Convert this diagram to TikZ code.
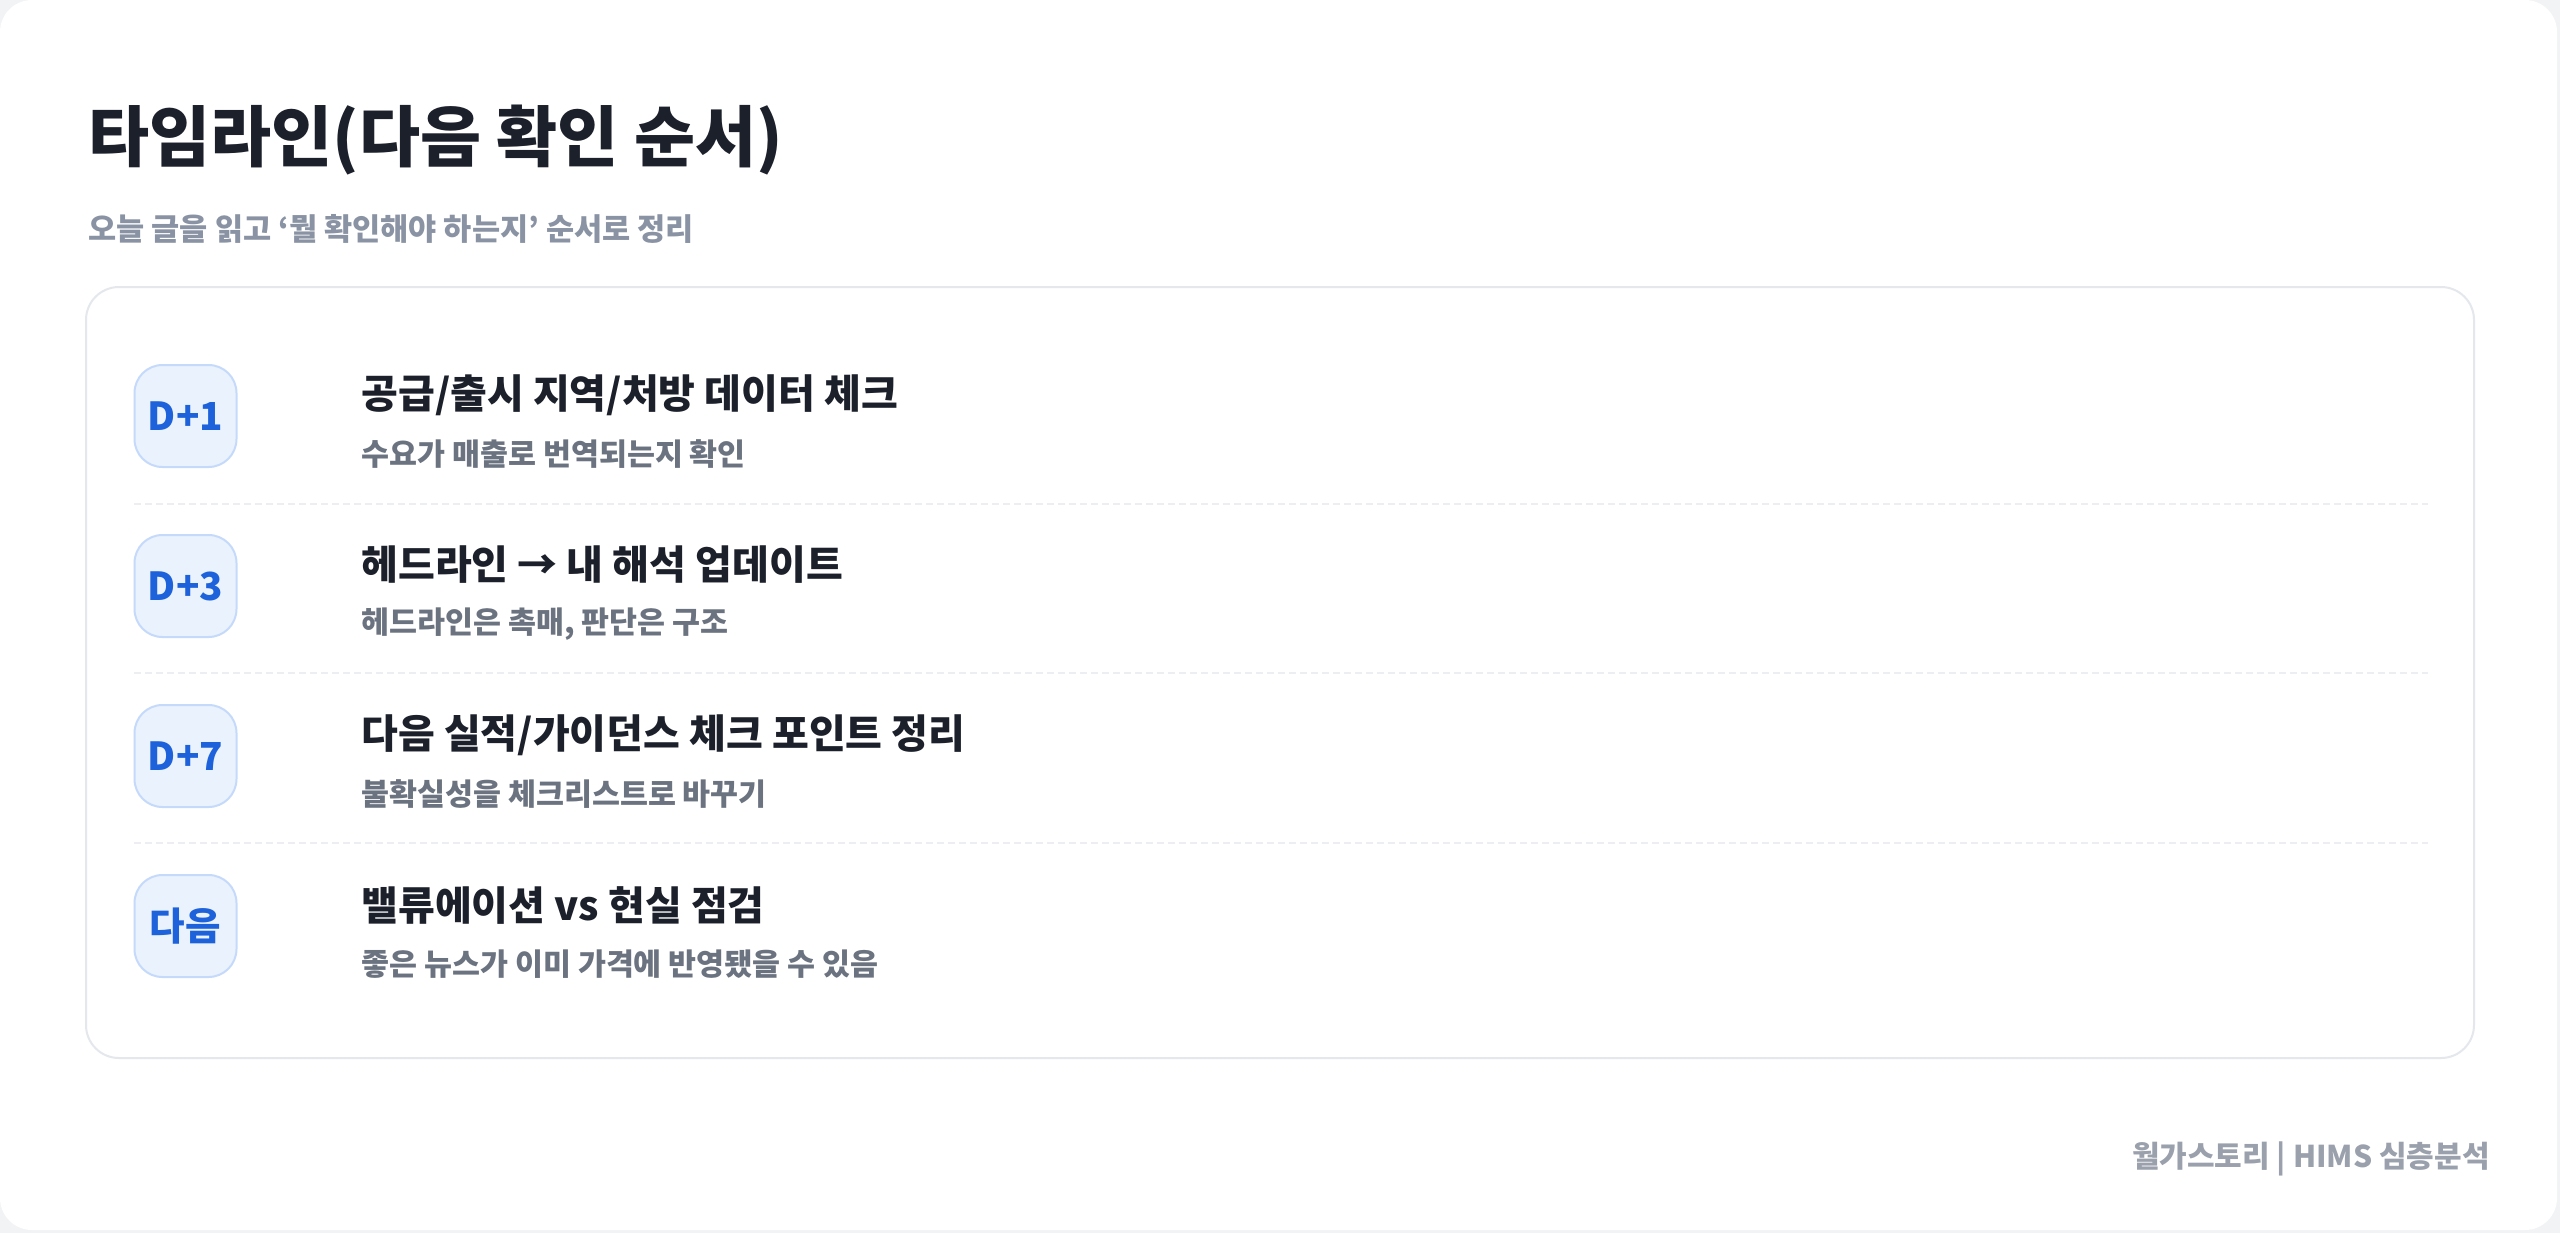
\documentclass[tikz,border=0pt]{standalone}
\usepackage{fontspec}
\setmainfont{Noto Sans CJK KR}

\definecolor{pagegray}{HTML}{F2F3F5}
\definecolor{cardline}{HTML}{E4E7EB}
\definecolor{sepline}{HTML}{ECEEF1}
\definecolor{inkdark}{HTML}{1B202B}
\definecolor{inkgray}{HTML}{6B7380}
\definecolor{headgray}{HTML}{8A93A3}
\definecolor{footgray}{HTML}{9AA1AC}
\definecolor{badgefill}{HTML}{EAF2FE}
\definecolor{badgeline}{HTML}{C5DAFB}
\definecolor{badgeblue}{HTML}{1D62DA}

\begin{document}
\begin{tikzpicture}[x=0.5pt,y=-0.5pt]
\tikzstyle{every node}+=[inner sep=0pt]
\tikzstyle{badge}=[draw=badgeline, fill=badgefill, line width=1pt, rounded corners=14pt, minimum width=51pt, minimum height=51pt, text=badgeblue, font=\fontsize{19.3}{19.3}\selectfont\bfseries]
\tikzstyle{rowhead}=[anchor=west, text=inkdark, font=\fontsize{20}{20}\selectfont\bfseries]
\tikzstyle{rownote}=[anchor=west, text=inkgray, font=\fontsize{15.2}{15.2}\selectfont\bfseries]
\tikzstyle{sep}=[sepline, line width=1pt, dash pattern=on 3.5pt off 2pt]
\useasboundingbox (0,0) rectangle (2560,1233);
% page and cards
\fill [pagegray] (0,0) rectangle (2560,1233);
\fill [white, rounded corners=16pt] (0,0) rectangle (2557,1230);
\draw [cardline, line width=1pt, rounded corners=16.5pt] (86,287) rectangle (2474,1058);
% heading
\node [anchor=west, text=inkdark, font=\fontsize{33.2}{33.2}\selectfont\bfseries] (title) at (88,140) {타임라인(다음 확인 순서)};
\node [anchor=west, text=headgray, font=\fontsize{15.3}{15.3}\selectfont\bfseries] (lead) at (88,229) {오늘 글을 읽고 ‘뭘 확인해야 하는지’ 순서로 정리};
% D+1
\node [badge] (d1) at (185.5,416) {D+1};
\node [rowhead] (h1) at (361,395) {공급/출시 지역/처방 데이터 체크};
\node [rownote] (n1) at (361,454) {수요가 매출로 번역되는지 확인};
\draw [sep] (134,504) -- (2428,504);
% D+3
\node [badge] (d3) at (185.5,586) {D+3};
\node [rowhead] (h3) at (361,565) {헤드라인 → 내 해석 업데이트};
\node [rownote] (n3) at (361,624) {헤드라인은 촉매, 판단은 구조};
\draw [sep] (134,673) -- (2428,673);
% D+7
\node [badge] (d7) at (185.5,756) {D+7};
\node [rowhead] (h7) at (361,735) {다음 실적/가이던스 체크 포인트 정리};
\node [rownote] (n7) at (361,794) {불확실성을 체크리스트로 바꾸기};
\draw [sep] (134,843) -- (2428,843);
% next
\node [badge] (dn) at (185.5,926) {다음};
\node [rowhead] (hn) at (361,905) {밸류에이션 vs 현실 점검};
\node [rownote] (nn) at (361,964) {좋은 뉴스가 이미 가격에 반영됐을 수 있음};
% footer
\node [anchor=east, text=footgray, font=\fontsize{15}{15}\selectfont\bfseries] (foot) at (2490,1159) {월가스토리 | HIMS 심층분석};
\end{tikzpicture}
\end{document}
